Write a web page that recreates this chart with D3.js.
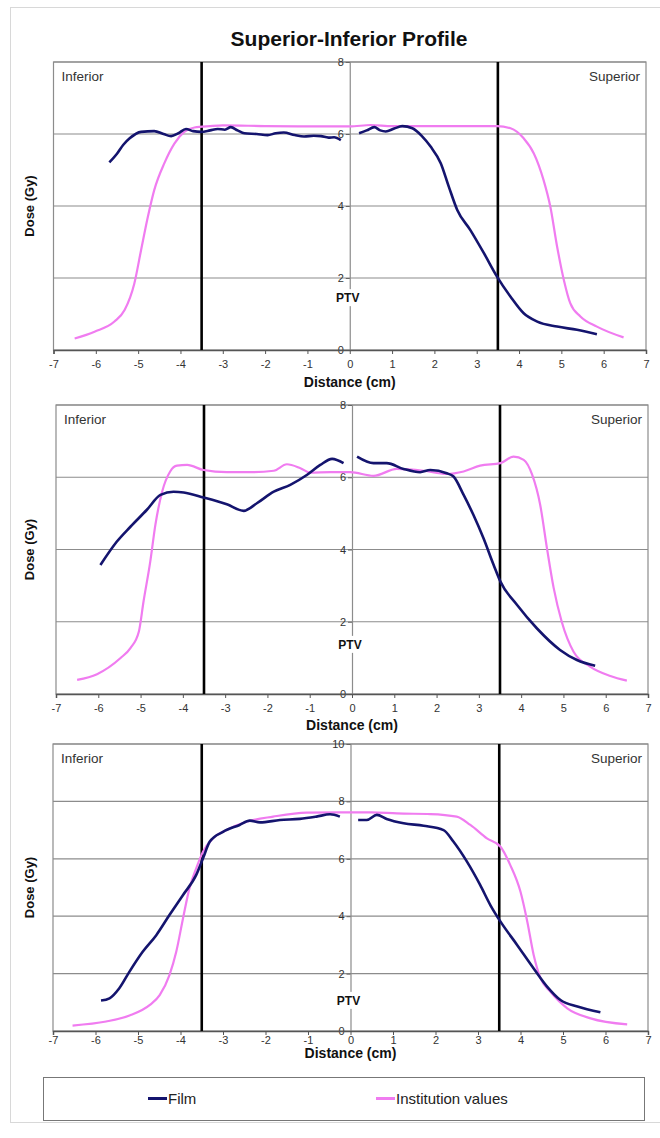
<!DOCTYPE html>
<html><head><meta charset="utf-8">
<script src="https://cdn.jsdelivr.net/npm/d3@7/dist/d3.min.js"></script>
<style>body{margin:0;background:#fff;}svg{display:block;font-family:"Liberation Sans",Arial,sans-serif;}</style>
</head><body>
<svg id="chart" width="660" height="1138"></svg>
<script>
// ---------- data ----------
const chartTitle = "Superior-Inferior Profile";
const xTicks = [-7,-6,-5,-4,-3,-2,-1,0,1,2,3,4,5,6,7];
const ptvEdges = [-3.5, 3.5];
const seriesNames = ["Film", "Institution values"];

// Panel 1
const p1YTicks = [0,2,4,6,8];
const p1FilmInf = [[-5.68,5.21],[-5.5,5.45],[-5.35,5.7],[-5.2,5.88],[-4.93,6.06],[-4.62,6.08],[-4.4,6.0],[-4.22,5.94],[-4.05,6.02],[-3.87,6.14],[-3.7,6.08],[-3.51,6.06],[-3.3,6.1],[-3.12,6.14],[-2.95,6.12],[-2.81,6.19],[-2.65,6.1],[-2.49,6.02],[-2.2,6.0],[-1.94,5.97],[-1.75,6.02],[-1.56,6.04],[-1.3,5.97],[-1.08,5.93],[-0.85,5.95],[-0.68,5.94],[-0.5,5.9],[-0.37,5.91],[-0.21,5.83]];
const p1FilmSup = [[0.22,6.02],[0.4,6.1],[0.58,6.19],[0.72,6.1],[0.85,6.07],[1.05,6.15],[1.24,6.22],[1.48,6.16],[1.7,5.95],[1.91,5.65],[2.15,5.19],[2.34,4.54],[2.54,3.89],[2.85,3.33],[3.17,2.69],[3.48,2.04],[3.8,1.48],[4.11,1.02],[4.43,0.79],[4.9,0.65],[5.37,0.56],[5.84,0.44]];
const p1Inst = [[-6.5,0.32],[-6.03,0.51],[-5.56,0.79],[-5.32,1.11],[-5.09,1.85],[-4.93,2.78],[-4.77,3.7],[-4.62,4.44],[-4.38,5.19],[-4.14,5.74],[-3.91,6.06],[-3.67,6.18],[-3.3,6.22],[-3.0,6.24],[-2.0,6.22],[-1.0,6.21],[0,6.21],[0.5,6.25],[1.0,6.22],[2.0,6.22],[3.0,6.22],[3.48,6.22],[3.8,6.16],[4.11,5.88],[4.35,5.46],[4.58,4.72],[4.74,3.98],[4.9,2.87],[5.06,1.94],[5.21,1.3],[5.45,0.93],[5.84,0.65],[6.47,0.35]];

// Panel 2
const p2YTicks = [0,2,4,6,8];
const p2FilmInf = [[-5.95,3.57],[-5.56,4.22],[-5.24,4.63],[-4.85,5.1],[-4.53,5.51],[-4.22,5.6],[-3.98,5.58],[-3.51,5.44],[-2.96,5.25],[-2.56,5.07],[-2.25,5.28],[-1.85,5.6],[-1.46,5.79],[-1.06,6.07],[-0.75,6.34],[-0.47,6.51],[-0.2,6.39]];
const p2FilmSup = [[0.12,6.57],[0.51,6.39],[0.82,6.39],[1.22,6.23],[1.61,6.14],[1.85,6.2],[2.24,6.11],[2.4,6.02],[2.64,5.51],[2.87,4.96],[3.11,4.31],[3.35,3.57],[3.51,3.11],[3.9,2.47],[4.37,1.82],[4.92,1.22],[5.32,0.94],[5.75,0.78]];
const p2Inst = [[-6.5,0.39],[-6.03,0.55],[-5.48,0.99],[-5.24,1.27],[-5.04,1.73],[-4.93,2.56],[-4.77,3.67],[-4.65,4.68],[-4.49,5.6],[-4.3,6.16],[-4.14,6.32],[-3.9,6.34],[-3.51,6.2],[-2.96,6.14],[-2.33,6.14],[-1.85,6.18],[-1.54,6.36],[-1.22,6.25],[-0.99,6.13],[-0.51,6.14],[-0.04,6.14],[0.51,6.04],[1.06,6.23],[1.69,6.18],[2.24,6.09],[2.64,6.16],[3.03,6.32],[3.51,6.39],[3.82,6.57],[4.06,6.48],[4.26,6.07],[4.45,5.24],[4.61,4.04],[4.77,2.93],[4.96,2.0],[5.24,1.17],[5.63,0.76],[6.11,0.5],[6.5,0.37]];

// Panel 3
const p3YTicks = [0,2,4,6,8,10];
const p3FilmInf = [[-5.87,1.06],[-5.67,1.14],[-5.44,1.49],[-5.2,2.07],[-4.89,2.76],[-4.57,3.34],[-4.26,4.04],[-3.94,4.74],[-3.63,5.44],[-3.47,6.02],[-3.31,6.6],[-3.0,6.94],[-2.61,7.18],[-2.37,7.33],[-2.13,7.27],[-1.66,7.35],[-1.19,7.39],[-0.8,7.47],[-0.48,7.55],[-0.25,7.47]];
const p3FilmSup = [[0.18,7.35],[0.38,7.35],[0.62,7.53],[0.85,7.39],[1.25,7.24],[1.72,7.15],[2.19,7.0],[2.42,6.6],[2.74,5.9],[3.05,5.09],[3.29,4.39],[3.53,3.81],[3.92,3.0],[4.31,2.18],[4.63,1.54],[4.94,1.08],[5.34,0.85],[5.88,0.65]];
const p3Inst = [[-6.54,0.19],[-5.75,0.33],[-5.2,0.54],[-4.72,0.91],[-4.49,1.25],[-4.26,1.95],[-4.1,2.76],[-3.94,3.93],[-3.79,4.97],[-3.63,5.67],[-3.47,6.25],[-3.24,6.71],[-2.92,7.0],[-2.45,7.29],[-1.82,7.47],[-1.03,7.61],[-0.25,7.62],[0.5,7.62],[1.09,7.58],[1.88,7.56],[2.5,7.47],[2.82,7.18],[3.21,6.71],[3.53,6.42],[3.76,5.78],[4.0,4.85],[4.16,3.81],[4.31,2.65],[4.47,1.84],[4.7,1.37],[5.1,0.79],[5.65,0.44],[6.51,0.23]];

// ---------- layout ----------
const panels = [
  {yTicks:p1YTicks, film:[p1FilmInf,p1FilmSup], inst:p1Inst, left:53.5, right:646, top:62, bottom:350, tickLblY:10, titleDy:37, ptvFrac:0.82},
  {yTicks:p2YTicks, film:[p2FilmInf,p2FilmSup], inst:p2Inst, left:56, right:648, top:405, bottom:694, tickLblY:10, titleDy:36, ptvFrac:0.83},
  {yTicks:p3YTicks, film:[p3FilmInf,p3FilmSup], inst:p3Inst, left:53, right:648, top:744, bottom:1031, tickLblY:5, titleDy:27, ptvFrac:0.895}
];
const filmColor = "#14146e";
const instColor = "#f07cf0";
const gridColor = "#8c8c8c";

const svg = d3.select("#chart");

// outer frame
svg.append("rect").attr("x",10.5).attr("y",7.5).attr("width",660).attr("height",1115)
  .attr("fill","none").attr("stroke","#d8d8d8");

svg.append("text").attr("x",349).attr("y",46).attr("text-anchor","middle")
  .attr("font-size",21).attr("font-weight","bold").attr("fill","#111").text(chartTitle);

panels.forEach(p => {
  const yMax = d3.max(p.yTicks);
  const x = d3.scaleLinear().domain([-7,7]).range([p.left,p.right]);
  const y = d3.scaleLinear().domain([0,yMax]).range([p.bottom,p.top]);
  const g = svg.append("g");

  // horizontal gridlines
  g.selectAll("line.grid").data(p.yTicks.filter(t=>t>0)).join("line")
    .attr("x1",x(-7)).attr("x2",x(7)).attr("y1",d=>y(d)).attr("y2",d=>y(d))
    .attr("stroke",gridColor).attr("stroke-width",1.2);
  // border
  g.append("rect").attr("x",x(-7)).attr("y",y(yMax)).attr("width",x(7)-x(-7)).attr("height",y(0)-y(yMax))
    .attr("fill","none").attr("stroke",gridColor).attr("stroke-width",1.2);

  // center y axis (at x=0)
  const yAxis = d3.axisLeft(y).tickValues(p.yTicks).tickSize(4).tickFormat(d3.format("d"));
  const ya = g.append("g").attr("transform",`translate(${x(0)},0)`).call(yAxis);
  ya.select(".domain").attr("stroke",gridColor).attr("stroke-width",1.2);
  ya.selectAll(".tick line").attr("stroke","#666");
  ya.selectAll(".tick text").attr("font-size",11).attr("fill","#333").attr("font-family","Liberation Sans, Arial").attr("dx",1);

  // PTV label with white background
  const ptvY = y(yMax) + (y(0)-y(yMax))*p.ptvFrac;
  g.append("rect").attr("x",x(0)-14).attr("y",ptvY-9).attr("width",26).attr("height",17).attr("fill","#fff");
  g.append("text").attr("x",x(0)-2).attr("y",ptvY+4).attr("text-anchor","middle")
    .attr("font-size",12).attr("font-weight","bold").attr("fill","#111").text("PTV");

  // x axis
  const xAxis = d3.axisBottom(x).tickValues(xTicks).tickSize(4).tickFormat(d3.format("d"));
  const xa = g.append("g").attr("transform",`translate(0,${y(0)})`).call(xAxis);
  xa.select(".domain").attr("stroke","#555").attr("stroke-width",1.5);
  xa.selectAll(".tick line").attr("stroke","#555");
  xa.selectAll(".tick text").attr("font-size",11).attr("fill","#333").attr("y",p.tickLblY)
    .text(d => d<0 ? "-"+Math.abs(d) : d);

  g.append("text").attr("x",x(0)).attr("y",y(0)+p.titleDy).attr("text-anchor","middle")
    .attr("font-size",14).attr("font-weight","bold").attr("fill","#111").text("Distance (cm)");

  // y title
  g.append("text").attr("transform",`translate(34,${(y(0)+y(yMax))/2}) rotate(-90)`)
    .attr("text-anchor","middle").attr("font-size",13).attr("font-weight","bold").attr("fill","#111").text("Dose (Gy)");

  // region labels
  g.append("text").attr("x",x(-7)+8).attr("y",y(yMax)+19).attr("font-size",13.5).attr("fill","#333").text("Inferior");
  g.append("text").attr("x",x(7)-6).attr("y",y(yMax)+19).attr("text-anchor","end").attr("font-size",13.5).attr("fill","#333").text("Superior");

  // PTV edges
  g.selectAll("line.edge").data(ptvEdges).join("line")
    .attr("x1",d=>x(d)).attr("x2",d=>x(d)).attr("y1",y(yMax)).attr("y2",y(0))
    .attr("stroke","#000").attr("stroke-width",2.6);

  const line = d3.line().x(d=>x(d[0])).y(d=>y(d[1])).curve(d3.curveMonotoneX);
  g.append("path").datum(p.inst).attr("d",line).attr("fill","none").attr("stroke",instColor).attr("stroke-width",2.2);
  p.film.forEach(seg => {
    g.append("path").datum(seg).attr("d",line).attr("fill","none").attr("stroke",filmColor).attr("stroke-width",2.6).attr("stroke-linejoin","round");
  });
});

// legend
const lg = svg.append("g");
lg.append("rect").attr("x",43.5).attr("y",1077.5).attr("width",601).attr("height",43)
  .attr("fill","#fff").attr("stroke","#777");
const legendItems = [{name:seriesNames[0], color:filmColor, x:148},{name:seriesNames[1], color:instColor, x:376}];
legendItems.forEach(it => {
  lg.append("line").attr("x1",it.x).attr("x2",it.x+19).attr("y1",1098.5).attr("y2",1098.5)
    .attr("stroke",it.color).attr("stroke-width",3);
  lg.append("text").attr("x",it.x+20).attr("y",1104).attr("font-size",15).attr("fill","#222").text(it.name);
});
</script>
</body></html>
